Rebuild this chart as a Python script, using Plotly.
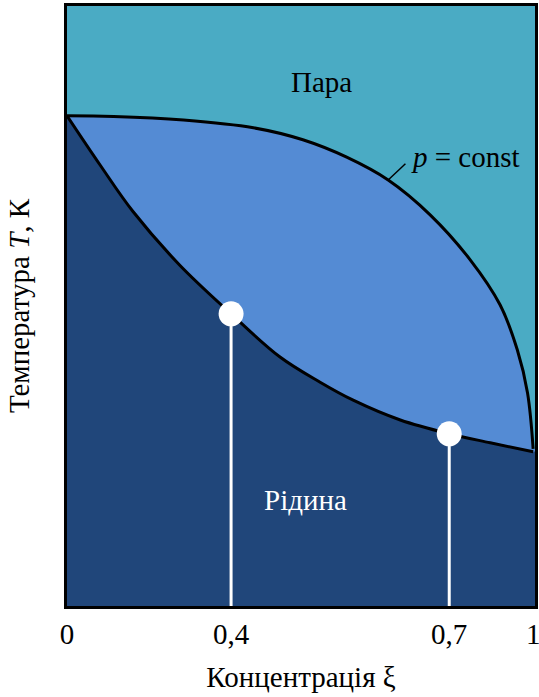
import plotly.graph_objects as go

# Upper (vapour) boundary: concentration (drawing units) vs temperature (relative)
vap_xi = [0.000, 0.100, 0.250, 0.400, 0.506, 0.600, 0.689, 0.779, 0.865, 0.929, 0.966, 0.988, 1.000]
vap_T  = [0.817, 0.816, 0.810, 0.797, 0.777, 0.748, 0.710, 0.652, 0.577, 0.502, 0.427, 0.355, 0.262]

# Lower (liquid) boundary
liq_xi = [0.000, 0.071, 0.142, 0.242, 0.352, 0.457, 0.543, 0.614, 0.715, 0.820, 0.908, 1.000]
liq_T  = [0.817, 0.735, 0.657, 0.568, 0.487, 0.415, 0.373, 0.343, 0.310, 0.287, 0.272, 0.257]

# Marked points on liquid curve
pt_xi = [0.352, 0.820]
pt_T  = [0.487, 0.287]

# Tick positions / labels
tick_pos = [0.0, 0.352, 0.820, 1.0]
tick_lbl = ["0", "0,4", "0,7", "1"]

C_VAP = "rgb(74,171,196)"
C_MID = "rgb(84,139,212)"
C_LIQ = "rgb(32,70,122)"
FONT = "Liberation Serif"
FS = 29

fig = go.Figure()

fig.add_trace(go.Scatter(x=vap_xi + [1.004, 1.004, 0.0], y=vap_T + [vap_T[-1], 0.0, 0.0], fill="toself",
                         fillcolor=C_MID, line=dict(width=0, shape="spline"), mode="lines", hoverinfo="skip"))
fig.add_trace(go.Scatter(x=liq_xi + [1.004, 1.004, 0.0], y=liq_T + [liq_T[-1], 0.0, 0.0], fill="toself",
                         fillcolor=C_LIQ, line=dict(width=0, shape="spline"), mode="lines", hoverinfo="skip"))
fig.add_trace(go.Scatter(x=vap_xi, y=vap_T, mode="lines", line=dict(color="black", width=3, shape="spline")))
fig.add_trace(go.Scatter(x=liq_xi, y=liq_T, mode="lines", line=dict(color="black", width=3, shape="spline")))

for xv, tv in zip(pt_xi, pt_T):
    fig.add_trace(go.Scatter(x=[xv, xv], y=[0, tv], mode="lines", line=dict(color="white", width=3)))
fig.add_trace(go.Scatter(x=pt_xi, y=pt_T, mode="markers",
                         marker=dict(color="white", size=25, line=dict(width=0))))

fig.add_shape(type="line", x0=0.689, y0=0.710, x1=0.726, y1=0.737, line=dict(color="black", width=1.5))

fig.add_annotation(x=0.547, y=0.873, text="Пара", showarrow=False,
                   font=dict(family=FONT, size=FS, color="black"))
fig.add_annotation(x=0.733, y=0.748, text="<i>p</i> = const", showarrow=False, xanchor="left",
                   font=dict(family=FONT, size=FS, color="black"))
fig.add_annotation(x=0.511, y=0.177, text="Рідина", showarrow=False,
                   font=dict(family=FONT, size=FS, color="white"))

fig.update_layout(
    width=539, height=697,
    margin=dict(l=67, r=4, t=6, b=91),
    plot_bgcolor=C_VAP, paper_bgcolor="white",
    showlegend=False, hovermode=False,
    font=dict(family=FONT, size=FS, color="black"),
)
fig.update_xaxes(range=[0, 1.004], tickvals=tick_pos, ticktext=tick_lbl, ticks="",
                 showgrid=False, zeroline=False, showline=True, mirror=True,
                 linecolor="black", linewidth=3, automargin=False, ticklabeloverflow="allow",
                 title=dict(text="Концентрація ξ", standoff=18, font=dict(family=FONT, size=FS)),
                 tickfont=dict(family=FONT, size=FS))
fig.update_yaxes(range=[0, 1.0], showticklabels=False, ticks="",
                 showgrid=False, zeroline=False, showline=True, mirror=True,
                 linecolor="black", linewidth=3, automargin=False,
                 title=dict(text="Температура <i>T</i>, К", standoff=26, font=dict(family=FONT, size=FS)))

fig.write_html("out.html", config={"displayModeBar": False},
               post_script="document.body.style.margin='0';document.body.style.overflow='hidden';")
